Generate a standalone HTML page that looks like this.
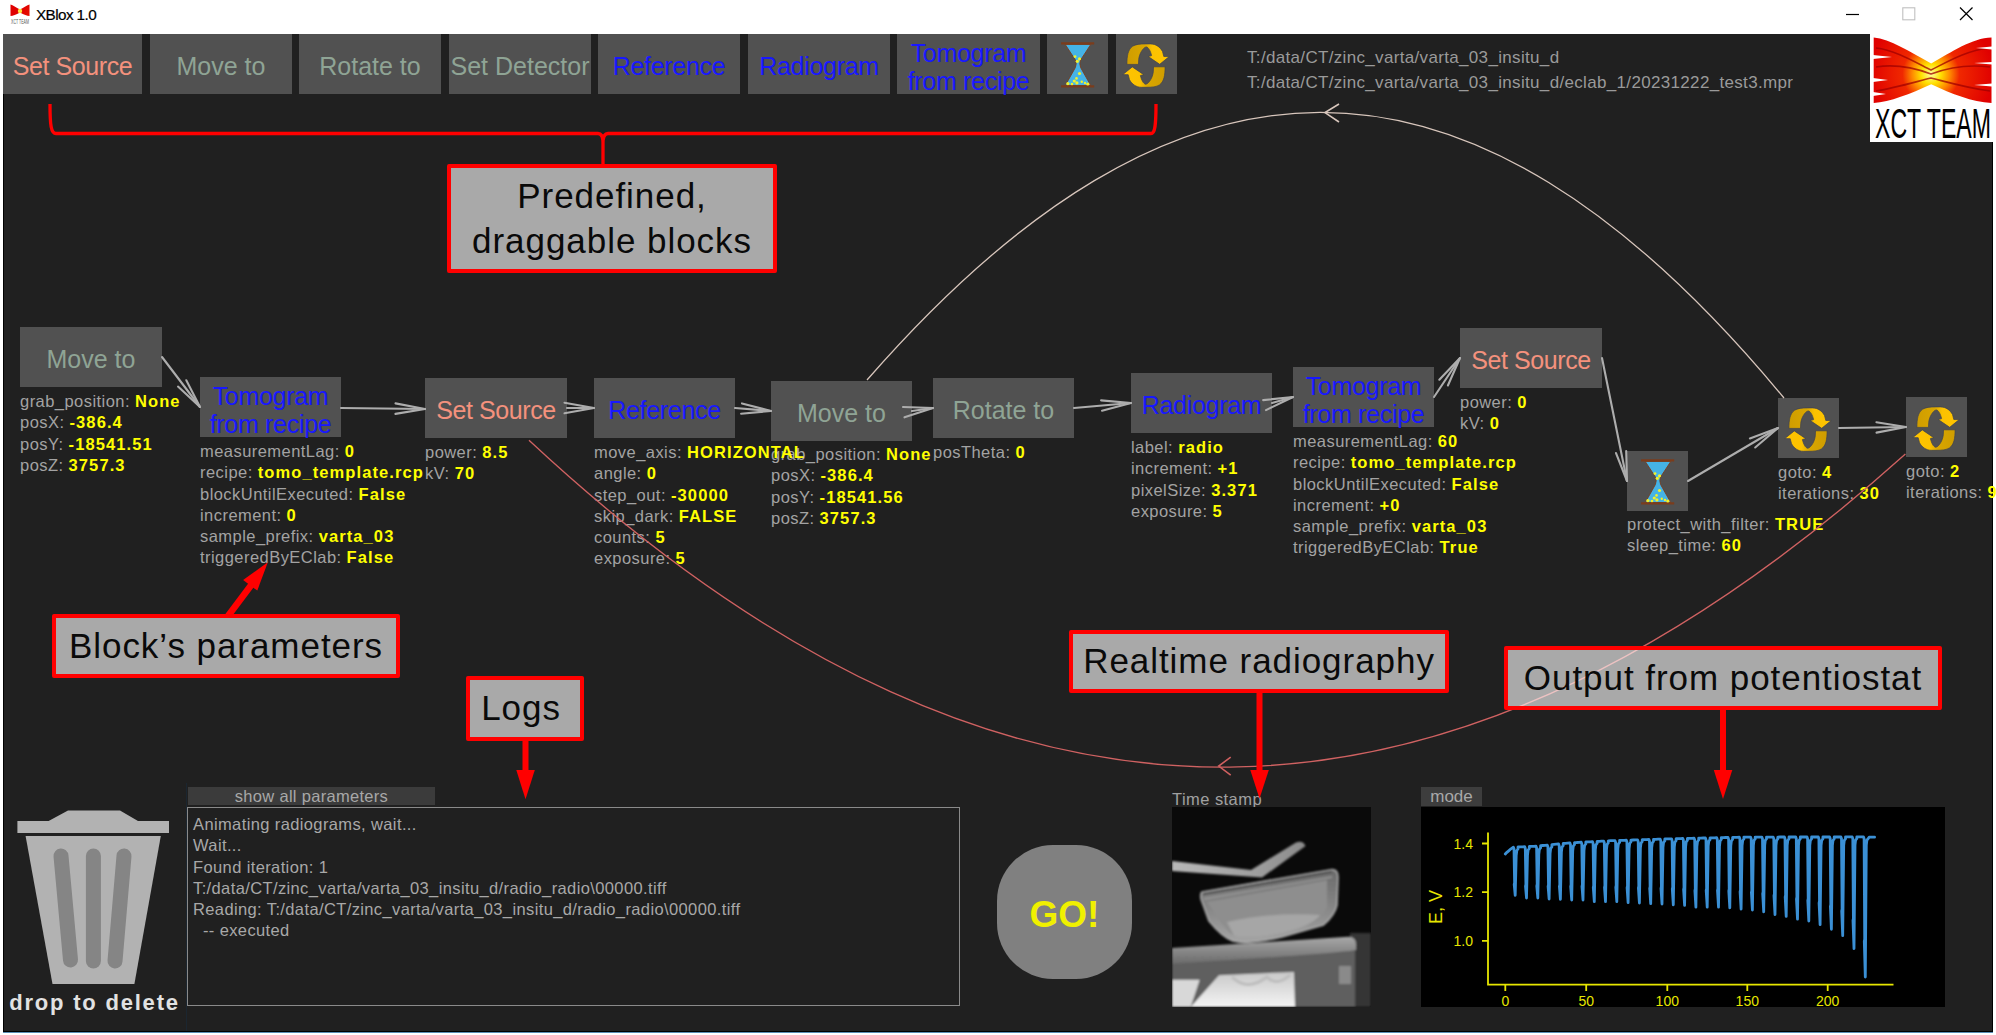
<!DOCTYPE html>
<html><head><meta charset="utf-8">
<style>
*{box-sizing:border-box;margin:0;padding:0}
html,body{width:1996px;height:1035px;overflow:hidden;background:#fff;font-family:"Liberation Sans",sans-serif}
body{position:relative}
.abs{position:absolute}
#main{position:absolute;left:3px;top:34px;width:1990px;height:998px;background:#202020;border:1px solid #000;border-top:none;box-shadow:0 1px 0 #5a8fb8}
.btn{position:absolute;top:34px;height:60px;background:#515151;display:flex;align-items:center;justify-content:center;text-align:center;font-size:25px;line-height:28px;white-space:nowrap;padding-top:3px}
.blk{position:absolute;height:60px;background:#515151;display:flex;align-items:center;justify-content:center;text-align:center;font-size:25px;line-height:28px;white-space:nowrap;padding-top:3px}
.btn.two,.blk.two{padding-top:5px}
.red{color:#f4917d;letter-spacing:-0.4px}
.grn{color:#8fa495}
.blu{color:#1818ff;letter-spacing:-0.3px}
.prm{position:absolute;font-size:16.5px;line-height:21.15px;color:#a3a3a3;white-space:nowrap;letter-spacing:0.45px;margin-top:1.3px}
.prm b{color:#ffff00;font-weight:bold;letter-spacing:1.1px}
.call{position:absolute;background:rgba(255,255,255,0.614);border:4.5px solid #ff0000;border-radius:2px;color:#0a0a0a;font-size:35px;letter-spacing:0.95px;text-align:center;white-space:nowrap}
</style></head><body>

<svg width="0" height="0" style="position:absolute">
<defs>
<linearGradient id="goldL" x1="0" y1="0" x2="1" y2="0">
<stop offset="0" stop-color="#cf9d00"/><stop offset="0.42" stop-color="#d9a600"/><stop offset="0.6" stop-color="#fcc200"/><stop offset="1" stop-color="#ffc400"/>
</linearGradient>
<g id="hg">
<path d="M18.2,10.4 L43.8,10.4 L33.6,26 L32.8,29.7 L33.6,33.5 L43.8,51.6 L18.2,51.6 L28.4,33.5 L29.2,29.7 L28.4,26 Z" fill="#45b3e6" stroke="#7b3c1c" stroke-width="0.9"/>
<path d="M14.1,9.4 H47.2 M14.1,52.4 H47.2" stroke="#7b3c1c" stroke-width="2.4"/>
<g fill="#f2f22a">
<circle cx="28" cy="22.6" r="1.4"/><circle cx="32.5" cy="24.8" r="1.6"/><circle cx="30.3" cy="27.3" r="1.6"/>
<circle cx="32.5" cy="39.5" r="1.6"/><circle cx="29.5" cy="44.4" r="1.3"/><circle cx="20.9" cy="49.6" r="1.6"/>
<circle cx="27.3" cy="47" r="1.6"/><circle cx="29.9" cy="48.9" r="1.6"/><circle cx="34.8" cy="47.8" r="1.2"/>
<circle cx="38" cy="49" r="1.2"/><circle cx="40.8" cy="50" r="1.6"/><circle cx="25" cy="50" r="1.3"/>
</g>
</g>
<g id="arw">
<path d="M10.9,30.4 C10.9,22 12,15.5 16.5,12.3 C19.5,10.3 24,9.9 30,9.9 L34.5,9.9 C40,10 44,13 46.5,17.5 L47.8,22.5 L53.2,22.6 L43.7,30.3 L32.2,22.5 L35.6,21.6 C34.5,17 32.5,13.2 30.2,12.9 C27,13.5 23.2,20 22.7,25.4 L22.5,30.4 Z" fill="url(#goldL)" stroke="#3c4150" stroke-width="0.7"/>
</g>
<g id="loop">
<use href="#arw"/>
<use href="#arw" transform="rotate(180 30 31.6)"/>
</g>
</defs>
</svg>
<!-- title bar -->
<div class="abs" style="left:36px;top:4px;font-size:15.3px;color:#000;line-height:22px;letter-spacing:-0.6px;-webkit-text-stroke:0.2px #000">XBlox 1.0</div>
<div id="main"></div>

<!-- top buttons -->
<div class="btn red" style="left:3px;width:139px">Set Source</div>
<div class="btn grn" style="left:150px;width:142px">Move to</div>
<div class="btn grn" style="left:299px;width:142px">Rotate to</div>
<div class="btn grn" style="left:449px;width:142px">Set Detector</div>
<div class="btn blu" style="left:598px;width:142px">Reference</div>
<div class="btn blu" style="left:748px;width:142px">Radiogram</div>
<div class="btn blu two" style="left:897px;width:143px">Tomogram<br>from recipe</div>
<div class="btn" style="left:1047px;width:61px"></div>
<div class="btn" style="left:1116px;width:61px"></div>

<!-- paths -->
<div class="prm" style="left:1247px;top:46px;font-size:17px;color:#9a9a9a;letter-spacing:0.33px">T:/data/CT/zinc_varta/varta_03_insitu_d</div>
<div class="prm" style="left:1247px;top:71px;font-size:17px;color:#9a9a9a;letter-spacing:0.33px">T:/data/CT/zinc_varta/varta_03_insitu_d/eclab_1/20231222_test3.mpr</div>

<!-- logo box -->
<div class="abs" style="left:1870px;top:34px;width:122px;height:108px;background:#fff"></div>


<!-- logo -->
<svg class="abs" style="left:1870px;top:34px" width="123" height="108">
<defs>
<radialGradient id="flame" cx="61" cy="40" r="62" gradientUnits="userSpaceOnUse">
<stop offset="0" stop-color="#ffffa0"/><stop offset="0.16" stop-color="#ffe000"/><stop offset="0.3" stop-color="#ff8c00"/><stop offset="0.46" stop-color="#f02800"/><stop offset="1" stop-color="#e00000"/>
</radialGradient>
</defs>
<rect width="123" height="108" fill="#fff"/>
<path d="M3.7,3.5 C20,5 40,18 61.2,29.4 C82,18 102,4 121.5,3.5 L121.5,69 C102,68 82,60 61.2,50.3 C40,60 20,68 3.7,69 Z" fill="url(#flame)"/>
<g stroke="#a00000" stroke-width="1.6" fill="none" opacity="0.75">
<path d="M6,14 C25,16 45,28 61,36 C77,28 97,16 120,14"/>
<path d="M6,33 C25,30 45,34 61,40 C77,34 97,30 120,33"/>
<path d="M6,57 C25,54 45,48 61,44 C77,48 97,54 120,57"/>
</g>
<g fill="#fff">
<path d="M3,21 L22,23 L3,25 Z"/><path d="M3,44 L18,46 L3,48 Z"/><path d="M3,58 L16,60 L3,62 Z"/>
<path d="M122,12.5 L106,14 L122,15.5 Z"/><path d="M122,28 L104,29 L122,30.5 Z"/><path d="M122,49.5 L104,51 L122,52.5 Z"/>
</g>
<text x="5" y="104.4" font-family="Liberation Sans" font-size="43" textLength="116" lengthAdjust="spacingAndGlyphs" fill="#000">XCT TEAM</text>
</svg>
<!-- title icon -->
<svg class="abs" style="left:10px;top:4px" width="21" height="20">
<path d="M0.5,0.5 C3,1 6,3.5 10,5.5 C14,3.5 17,1 19.5,0.5 L19.5,12 C17,12 14,10.5 10,8.5 C6,10.5 3,12 0.5,12 Z" fill="url(#flame)" transform="scale(1)"/>
<circle cx="10" cy="7" r="2.2" fill="#ffe040"/>
<text x="1" y="19.5" font-family="Liberation Sans" font-size="7" textLength="18" lengthAdjust="spacingAndGlyphs" fill="#555">XCT TEAM</text>
</svg>
<!-- window controls -->
<svg class="abs" style="left:1840px;top:0" width="156" height="34">
<path d="M6,14.5 H19" stroke="#000" stroke-width="1.2"/>
<rect x="62.8" y="7.8" width="12" height="12" fill="none" stroke="#c0c0c0" stroke-width="1.1"/>
<path d="M120,7.5 L132.5,20 M132.5,7.5 L120,20" stroke="#000" stroke-width="1.2"/>
</svg>
<!-- blocks -->
<div class="blk grn" style="left:20px;top:327px;width:142px">Move to</div>
<div class="blk blu two" style="left:200px;top:377px;width:141px">Tomogram<br>from recipe</div>
<div class="blk red" style="left:425px;top:378px;width:142px">Set Source</div>
<div class="blk blu" style="left:594px;top:378px;width:141px">Reference</div>
<div class="blk grn" style="left:771px;top:381px;width:141px">Move to</div>
<div class="blk grn" style="left:933px;top:378px;width:141px">Rotate to</div>
<div class="blk blu" style="left:1131px;top:373px;width:141px">Radiogram</div>
<div class="blk blu two" style="left:1293px;top:367px;width:141px">Tomogram<br>from recipe</div>
<div class="blk red" style="left:1460px;top:328px;width:142px">Set Source</div>
<div class="blk" style="left:1627px;top:451px;width:61px"></div>
<div class="blk" style="left:1778px;top:398px;width:61px"></div>
<div class="blk" style="left:1906px;top:397px;width:61px"></div>



<!-- icons -->
<svg class="abs" style="left:1047px;top:34px" width="61" height="60"><use href="#hg"/></svg>
<svg class="abs" style="left:1116px;top:34px" width="61" height="60"><use href="#loop"/></svg>
<svg class="abs" style="left:1627px;top:451px" width="61" height="60"><use href="#hg"/></svg>
<svg class="abs" style="left:1778px;top:398px" width="61" height="60"><use href="#loop"/></svg>
<svg class="abs" style="left:1906px;top:397px" width="61" height="60"><use href="#loop"/></svg>
<!-- params -->
<div class="prm" style="left:20px;top:390px">grab_position: <b>None</b><br>posX: <b>-386.4</b><br>posY: <b>-18541.51</b><br>posZ: <b>3757.3</b></div>
<div class="prm" style="left:200px;top:440px">measurementLag: <b>0</b><br>recipe: <b>tomo_template.rcp</b><br>blockUntilExecuted: <b>False</b><br>increment: <b>0</b><br>sample_prefix: <b>varta_03</b><br>triggeredByEClab: <b>False</b></div>
<div class="prm" style="left:425px;top:441px">power: <b>8.5</b><br>kV: <b>70</b></div>
<div class="prm" style="left:771px;top:443px">grab_position: <b>None</b><br>posX: <b>-386.4</b><br>posY: <b>-18541.56</b><br>posZ: <b>3757.3</b></div>
<div class="prm" style="left:594px;top:441px">move_axis: <b>HORIZONTAL</b><br>angle: <b>0</b><br>step_out: <b>-30000</b><br>skip_dark: <b>FALSE</b><br>counts: <b>5</b><br>exposure: <b>5</b></div>
<div class="prm" style="left:933px;top:441px">posTheta: <b>0</b></div>
<div class="prm" style="left:1131px;top:436px">label: <b>radio</b><br>increment: <b>+1</b><br>pixelSize: <b>3.371</b><br>exposure: <b>5</b></div>
<div class="prm" style="left:1293px;top:430px">measurementLag: <b>60</b><br>recipe: <b>tomo_template.rcp</b><br>blockUntilExecuted: <b>False</b><br>increment: <b>+0</b><br>sample_prefix: <b>varta_03</b><br>triggeredByEClab: <b>True</b></div>
<div class="prm" style="left:1460px;top:391px">power: <b>0</b><br>kV: <b>0</b></div>
<div class="prm" style="left:1627px;top:513px">protect_with_filter: <b>TRUE</b><br>sleep_time: <b>60</b></div>
<div class="prm" style="left:1778px;top:461px">goto: <b>4</b><br>iterations: <b>30</b></div>
<div class="prm" style="left:1906px;top:460px">goto: <b>2</b><br>iterations: <b>9</b></div>


<!-- bottom -->
<div class="abs" style="left:186px;top:783px;width:1px;height:248px;background:#1b2630"></div>
<svg class="abs" style="left:0;top:0" width="200" height="1035">
<path d="M68,810.5 L120,810.5 L138,821 L169,821 L169,833 L17.4,833 L17.4,821 L48.6,821 Z" fill="#b2b2b2"/>
<path d="M25.6,836 L160.8,836 L134.4,984 L52.5,984 Z" fill="#b2b2b2"/>
<g stroke="#858585" stroke-width="15" stroke-linecap="round">
<line x1="61" y1="856" x2="70.5" y2="960"/>
<line x1="93.4" y1="856" x2="93.4" y2="961"/>
<line x1="124" y1="856" x2="115" y2="961"/>
</g>
</svg>
<div class="abs" style="left:9px;top:989px;width:171px;font-size:22px;font-weight:bold;color:#e2e2e2;line-height:28px;letter-spacing:1.8px;text-align:center">drop to delete</div>
<div class="abs" style="left:188px;top:787px;width:247px;height:18px;background:#3b3b3b;color:#a8a8a8;font-size:16.5px;line-height:19px;text-align:center;letter-spacing:0.3px">show all parameters</div>
<div class="abs" style="left:187px;top:807px;width:773px;height:199px;border:1.5px solid #8a8a8a"></div>
<div class="prm" style="left:193px;top:813px;color:#a8a8a8;letter-spacing:0.38px">Animating radiograms, wait...<br>Wait...<br>Found iteration: 1<br>T:/data/CT/zinc_varta/varta_03_insitu_d/radio_radio\00000.tiff<br>Reading: T:/data/CT/zinc_varta/varta_03_insitu_d/radio_radio\00000.tiff<br>&nbsp; -- executed</div>
<div class="abs" style="left:997px;top:845px;width:135px;height:134px;border-radius:56px;background:#808080;color:#f0f000;font-weight:bold;font-size:37px;line-height:139px;text-align:center">GO!</div>
<div class="prm" style="left:1172px;top:788px;color:#a0a0a0">Time stamp</div>
<div class="abs" style="left:1421px;top:787px;width:61px;height:19px;background:#3d3d3d;color:#a8a8a8;font-size:17px;line-height:20px;text-align:center">mode</div>
<div class="abs" style="left:1421px;top:807px;width:524px;height:200px;background:#000"></div>


<svg class="abs" style="left:0;top:0" width="1996" height="1035">
<g stroke="#e6e600" stroke-width="1.8" fill="none">
<path d="M1488,832.5 V984.7 H1893.5"/>
<path d="M1482,843.5 H1488 M1482,892.2 H1488 M1482,940.8 H1488"/>
<path d="M1505.3,984.7 V991 M1586.2,984.7 V991 M1667.3,984.7 V991 M1747.3,984.7 V991 M1827.7,984.7 V991"/>
</g>
<g fill="#e6e600" font-family="Liberation Sans" font-size="14">
<text x="1473" y="848.5" text-anchor="end">1.4</text>
<text x="1473" y="897.2" text-anchor="end">1.2</text>
<text x="1473" y="945.8" text-anchor="end">1.0</text>
<text x="1505.3" y="1006" text-anchor="middle">0</text>
<text x="1586.2" y="1006" text-anchor="middle">50</text>
<text x="1667.3" y="1006" text-anchor="middle">100</text>
<text x="1747.3" y="1006" text-anchor="middle">150</text>
<text x="1827.7" y="1006" text-anchor="middle">200</text>
<text x="0" y="0" font-size="18" text-anchor="middle" transform="translate(1442,907) rotate(-90)">E, V</text>
</g>
<polyline points="1505.3,854.0 1506.3,852.8 1508.7,850.8 1511.0,848.8 1513.4,847.2 1514.0,849.0 1514.6,882.4 1514.2,884.4 1515.2,895.3 1516.2,855.5 1516.8,850.5 1518.0,849.0 1518.0,847.0 1520.2,846.9 1522.5,846.8 1524.7,846.7 1525.3,848.5 1525.9,884.2 1525.5,886.2 1526.5,898.0 1527.5,855.0 1528.1,850.0 1529.3,848.5 1529.3,846.5 1531.5,846.4 1533.8,846.3 1536.0,846.2 1536.6,847.9 1537.2,884.1 1536.8,886.1 1537.8,898.0 1538.8,854.4 1539.4,849.4 1540.6,847.9 1540.6,845.7 1542.8,845.5 1545.0,845.3 1547.3,845.1 1547.9,846.8 1548.5,884.5 1548.1,886.5 1549.1,899.0 1550.1,853.3 1550.7,848.3 1551.9,846.8 1551.9,844.6 1554.1,844.4 1556.3,844.2 1558.6,844.0 1559.2,845.7 1559.8,884.4 1559.4,886.4 1560.4,899.3 1561.4,852.2 1562.0,847.2 1563.2,845.7 1563.2,843.5 1565.4,843.3 1567.6,843.1 1569.9,842.9 1570.5,844.6 1571.1,884.6 1570.7,886.6 1571.7,900.0 1572.7,851.1 1573.3,846.1 1574.5,844.6 1574.5,842.6 1576.7,842.5 1578.9,842.3 1581.2,842.2 1581.8,844.0 1582.4,884.5 1582.0,886.5 1583.0,900.0 1584.0,850.5 1584.6,845.5 1585.8,844.0 1585.8,842.0 1588.0,841.9 1590.2,841.8 1592.5,841.6 1593.1,843.4 1593.7,885.6 1593.3,887.6 1594.3,901.7 1595.3,849.9 1595.9,844.9 1597.1,843.4 1597.1,841.4 1599.3,841.3 1601.5,841.2 1603.7,841.1 1604.3,842.8 1604.9,885.4 1604.5,887.4 1605.5,901.7 1606.5,849.3 1607.1,844.3 1608.3,842.8 1608.3,840.8 1610.6,840.7 1612.8,840.7 1615.0,840.6 1615.6,842.4 1616.2,885.3 1615.8,887.3 1616.8,901.7 1617.8,848.9 1618.4,843.9 1619.6,842.4 1619.6,840.4 1621.9,840.4 1624.1,840.3 1626.3,840.2 1626.9,842.0 1627.5,885.8 1627.1,887.8 1628.1,902.6 1629.1,848.5 1629.7,843.5 1630.9,842.0 1630.9,840.1 1633.2,840.0 1635.4,839.9 1637.6,839.9 1638.2,841.6 1638.8,886.0 1638.4,888.0 1639.4,903.0 1640.4,848.1 1641.0,843.1 1642.2,841.6 1642.2,839.7 1644.5,839.6 1646.7,839.6 1648.9,839.5 1649.5,841.3 1650.1,886.4 1649.7,888.4 1650.7,903.6 1651.7,847.8 1652.3,842.8 1653.5,841.3 1653.5,839.3 1655.8,839.3 1658.0,839.2 1660.2,839.1 1660.8,840.9 1661.4,886.6 1661.0,888.6 1662.0,904.0 1663.0,847.4 1663.6,842.4 1664.8,840.9 1664.8,839.0 1667.0,838.9 1669.3,838.9 1671.5,838.8 1672.1,840.6 1672.7,887.1 1672.3,889.1 1673.3,904.8 1674.3,847.1 1674.9,842.1 1676.1,840.6 1676.1,838.7 1678.3,838.6 1680.6,838.6 1682.8,838.5 1683.4,840.3 1684.0,887.4 1683.6,889.4 1684.6,905.4 1685.6,846.8 1686.2,841.8 1687.4,840.3 1687.4,838.4 1689.6,838.3 1691.9,838.3 1694.1,838.2 1694.7,840.0 1695.3,888.7 1694.9,890.7 1695.9,907.2 1696.9,846.5 1697.5,841.5 1698.7,840.0 1698.7,838.1 1700.9,838.1 1703.2,838.0 1705.4,838.0 1706.0,839.7 1706.6,888.6 1706.2,890.6 1707.2,907.2 1708.2,846.2 1708.8,841.2 1710.0,839.7 1710.0,837.9 1712.2,837.8 1714.5,837.8 1716.7,837.7 1717.3,839.5 1717.9,888.5 1717.5,890.5 1718.5,907.2 1719.5,846.0 1720.1,841.0 1721.3,839.5 1721.3,837.6 1723.5,837.6 1725.7,837.5 1728.0,837.5 1728.6,839.3 1729.2,888.9 1728.8,890.9 1729.8,907.8 1730.8,845.8 1731.4,840.8 1732.6,839.3 1732.6,837.4 1734.8,837.3 1737.0,837.3 1739.3,837.2 1739.9,839.0 1740.5,889.8 1740.1,891.8 1741.1,909.1 1742.1,845.5 1742.7,840.5 1743.9,839.0 1743.9,837.1 1746.1,837.1 1748.3,837.1 1750.6,837.1 1751.2,838.9 1751.8,890.4 1751.4,892.4 1752.4,910.0 1753.4,845.4 1754.0,840.4 1755.2,838.9 1755.2,837.1 1757.4,837.1 1759.6,837.1 1761.9,837.1 1762.5,838.9 1763.1,891.7 1762.7,893.7 1763.7,911.8 1764.7,845.4 1765.3,840.4 1766.5,838.9 1766.5,837.1 1768.7,837.1 1770.9,837.1 1773.2,837.1 1773.8,838.9 1774.4,893.7 1774.0,895.7 1775.0,914.6 1776.0,845.4 1776.6,840.4 1777.8,838.9 1777.8,837.1 1780.0,837.0 1782.2,837.0 1784.4,837.0 1785.0,838.8 1785.6,895.1 1785.2,897.1 1786.2,916.4 1787.2,845.3 1787.8,840.3 1789.0,838.8 1789.0,837.0 1791.3,837.0 1793.5,837.0 1795.7,837.0 1796.3,838.8 1796.9,897.1 1796.5,899.1 1797.5,919.2 1798.5,845.3 1799.1,840.3 1800.3,838.8 1800.3,837.0 1802.6,837.0 1804.8,837.0 1807.0,837.0 1807.6,838.8 1808.2,898.4 1807.8,900.4 1808.8,921.0 1809.8,845.3 1810.4,840.3 1811.6,838.8 1811.6,837.0 1813.9,837.0 1816.1,837.0 1818.3,837.0 1818.9,838.8 1819.5,901.1 1819.1,903.1 1820.1,924.7 1821.1,845.3 1821.7,840.3 1822.9,838.8 1822.9,837.0 1825.2,837.0 1827.4,837.0 1829.6,837.0 1830.2,838.8 1830.8,904.5 1830.4,906.5 1831.4,929.3 1832.4,845.3 1833.0,840.3 1834.2,838.8 1834.2,837.0 1836.5,837.0 1838.7,837.0 1840.9,837.0 1841.5,838.8 1842.1,909.1 1841.7,911.1 1842.7,935.7 1843.7,845.3 1844.3,840.3 1845.5,838.8 1845.5,836.9 1847.7,836.9 1850.0,836.9 1852.2,836.9 1852.8,838.7 1853.4,918.5 1853.0,920.5 1854.0,948.6 1855.0,845.2 1855.6,840.2 1856.8,838.7 1856.8,836.9 1859.0,836.9 1861.3,836.9 1863.5,836.9 1864.1,838.7 1864.7,939.3 1864.3,941.3 1865.3,977.0 1866.3,845.2 1866.9,840.2 1868.1,838.7 1869.1,837.2 1870.5,837.2 1871.8,837.2 1873.2,837.2 1874.6,837.2" stroke="#3b90d5" stroke-width="2.8" fill="none" stroke-linejoin="round" stroke-linecap="round"/>
</svg>


<!-- radiograph -->
<svg class="abs" style="left:1172px;top:807px" width="199" height="200">
<defs>
<filter id="soft" x="-5%" y="-5%" width="110%" height="110%"><feGaussianBlur stdDeviation="0.9"/></filter>
<filter id="soft2" x="-10%" y="-10%" width="120%" height="120%"><feGaussianBlur stdDeviation="2.5"/></filter>
<linearGradient id="rodg" x1="0" y1="0" x2="1" y2="0"><stop offset="0" stop-color="#b8b8b8"/><stop offset="0.6" stop-color="#a0a0a0"/><stop offset="1" stop-color="#8a8a8a"/></linearGradient>
<linearGradient id="bowlg" x1="0" y1="0" x2="0" y2="1"><stop offset="0" stop-color="#6a6a6a"/><stop offset="0.5" stop-color="#858585"/><stop offset="1" stop-color="#a5a5a5"/></linearGradient>
<linearGradient id="platg" x1="0" y1="0" x2="0" y2="1"><stop offset="0" stop-color="#a8a8a8"/><stop offset="1" stop-color="#6a6a6a"/></linearGradient>
<linearGradient id="brightg" x1="0" y1="0" x2="0" y2="1"><stop offset="0" stop-color="#c8c8c8"/><stop offset="1" stop-color="#f4f4f4"/></linearGradient>
</defs>
<rect width="199" height="200" fill="#0a0a0a"/>
<g filter="url(#soft)">
<path d="M178,126 L199,126 L199,200 L178,200 Z" fill="#363636"/>
<path d="M0,150 L183,140 L183,200 L0,200 Z" fill="#5e5e5e"/>
<path d="M0,141 L176,129.7 Q184,130 184,137 L184,143 Q170,146 0,157 Z" fill="url(#platg)"/>
<path d="M167,159 L179,159 L179,177 L167,177 Z" fill="#8a8a8a"/>
<path d="M0,172.8 L27.7,172.8 L18.7,200 L0,200 Z" fill="#d8d8d8"/>
<path d="M18.7,200 L47,168.3 L122,164.9 L123,200 Z" fill="url(#brightg)"/>
<path d="M60,170 Q75,185 95,170 Q105,180 118,168" stroke="#bdbdbd" stroke-width="3" fill="none"/>
<path d="M0,54 L79,63 L124,35.5 Q131,33 133.5,39 L90,70.5 L0,64 Z" fill="url(#rodg)"/>
<path d="M30,85 L159,62.7 Q166,62 166,70 L165,98 Q163,108 151.5,118 L110,130 Q75,138 60.7,134 Q50,130 37,114 L29,92 Q28,86 30,85 Z" fill="url(#bowlg)" stroke="#a8a8a8" stroke-width="1.6"/>
<path d="M35,95 L155,73 L155,100 Q150,112 140,117 L105,127 Q75,133 62,129 Q52,122 44,108 Z" fill="#8e8e8e"/>
<path d="M55,115 Q100,105 148,108 Q140,120 105,127 Q75,133 62,129 Z" fill="#a6a6a6"/>
<path d="M31,87 L160,64.5" stroke="#4a4a4a" stroke-width="2.2"/>
<path d="M32,92 L160,70" stroke="#9a9a9a" stroke-width="1.5"/>
</g>
</svg>

<!-- connections -->
<svg class="abs" style="left:0;top:0" width="1996" height="1035">
<g stroke="#adadad" stroke-width="2.1" stroke-linecap="round" fill="none"><line x1="162.0" y1="357.0" x2="200.0" y2="407.0"/><line x1="200.0" y1="407.0" x2="186.3" y2="380.3"/><line x1="200.0" y1="407.0" x2="178.0" y2="386.6"/><line x1="341.0" y1="408.0" x2="425.0" y2="409.0"/><line x1="425.0" y1="409.0" x2="395.5" y2="403.4"/><line x1="425.0" y1="409.0" x2="395.4" y2="413.9"/><line x1="567.0" y1="408.0" x2="594.0" y2="408.0"/><line x1="594.0" y1="408.0" x2="564.5" y2="402.8"/><line x1="594.0" y1="408.0" x2="564.5" y2="413.2"/><line x1="735.0" y1="408.0" x2="771.0" y2="411.0"/><line x1="771.0" y1="411.0" x2="742.0" y2="403.4"/><line x1="771.0" y1="411.0" x2="741.1" y2="413.7"/><line x1="912.0" y1="411.0" x2="933.0" y2="408.0"/><line x1="933.0" y1="408.0" x2="903.0" y2="407.0"/><line x1="933.0" y1="408.0" x2="904.5" y2="417.3"/><line x1="1074.0" y1="408.0" x2="1131.0" y2="403.0"/><line x1="1131.0" y1="403.0" x2="1101.1" y2="400.4"/><line x1="1131.0" y1="403.0" x2="1102.0" y2="410.8"/><line x1="1272.0" y1="403.0" x2="1293.0" y2="397.0"/><line x1="1293.0" y1="397.0" x2="1263.2" y2="400.1"/><line x1="1293.0" y1="397.0" x2="1266.0" y2="410.1"/><line x1="1434.0" y1="397.0" x2="1460.0" y2="358.0"/><line x1="1460.0" y1="358.0" x2="1439.3" y2="379.7"/><line x1="1460.0" y1="358.0" x2="1447.9" y2="385.5"/><line x1="1602.0" y1="358.0" x2="1627.0" y2="481.0"/><line x1="1627.0" y1="481.0" x2="1626.2" y2="451.0"/><line x1="1627.0" y1="481.0" x2="1616.0" y2="453.1"/><line x1="1688.0" y1="481.0" x2="1778.0" y2="428.0"/><line x1="1778.0" y1="428.0" x2="1749.9" y2="438.5"/><line x1="1778.0" y1="428.0" x2="1755.2" y2="447.5"/><line x1="1839.0" y1="428.0" x2="1906.0" y2="427.0"/><line x1="1906.0" y1="427.0" x2="1876.4" y2="422.2"/><line x1="1906.0" y1="427.0" x2="1876.5" y2="432.6"/></g>
<path d="M867,380 C1173,29.8 1463.8,10.5 1784,398" stroke="#d8c6bc" stroke-width="1.3" fill="none"/>
<path d="M1339,104 L1325,112.6 L1339,122" stroke="#d8c6bc" stroke-width="1.6" fill="none"/>
<path d="M529,440.3 C1022,900 1467,847 1905.4,454" stroke="#d06262" stroke-width="1.35" fill="none"/>
<path d="M1230.7,757.1 L1218.7,766.1 L1230.7,775.2" stroke="#cf6060" stroke-width="1.6" fill="none"/>
<path d="M50,104 C50,125 51,133.5 56,133.5 L598,133.5 C601,133.5 603,137 603,143 L603,164 M603,143 C603,137 605,133.5 608,133.5 L1151,133.5 C1155,133.5 1156,125 1156,104" stroke="#ff0000" stroke-width="3.3" fill="none"/>
</svg>

<!-- callouts -->
<div class="call" style="left:447px;top:164px;width:330px;height:109px;line-height:45px;padding-top:4.5px">Predefined,<br>draggable blocks</div>
<div class="call" style="left:52px;top:614px;width:348px;height:64px;line-height:55px">Block’s parameters</div>
<div class="call" style="left:466px;top:676px;width:118px;height:65px;line-height:56px;padding-right:8px">Logs</div>
<div class="call" style="left:1069px;top:630px;width:380px;height:63px;line-height:54px">Realtime radiography</div>
<div class="call" style="left:1504px;top:646px;width:438px;height:64px;line-height:55px">Output from potentiostat</div>
<svg class="abs" style="left:0;top:0" width="1996" height="1035">
<g fill="#ff0000">
<path d="M525.5,740 V772" stroke="#ff0000" stroke-width="6"/>
<path d="M516.3,770 L534.8,770 L525.5,799.2 Z"/>
<path d="M1259.5,692 V772" stroke="#ff0000" stroke-width="6"/>
<path d="M1250.3,770 L1268.8,770 L1259.5,798.4 Z"/>
<path d="M1723,709 V772" stroke="#ff0000" stroke-width="6"/>
<path d="M1713.8,770 L1732.3,770 L1723,799 Z"/>
<path d="M228,616 L252,584" stroke="#ff0000" stroke-width="6.5"/>
<path d="M267.8,562.2 L243.1,580.1 L257.3,590.6 Z"/>
</g>
</svg>
</body></html>
